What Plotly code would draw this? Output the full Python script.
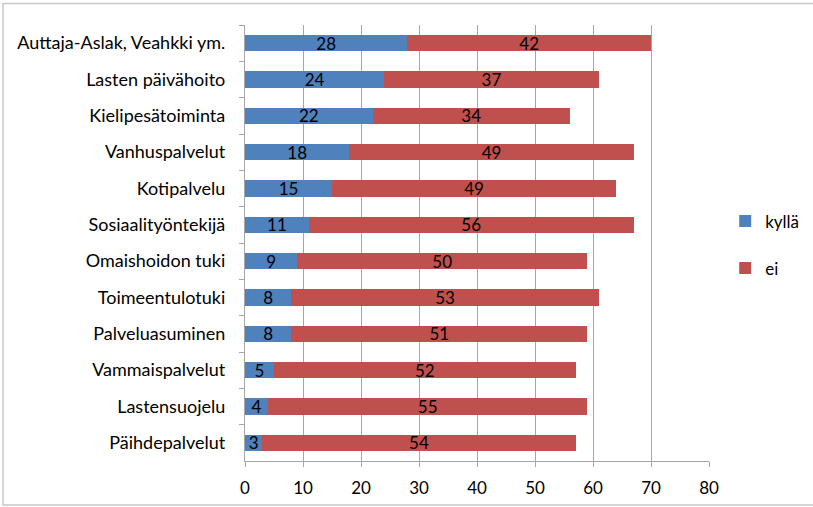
import plotly.graph_objects as go

categories = [
    "Auttaja-Aslak, Veahkki ym.",
    "Lasten päivähoito",
    "Kielipesätoiminta",
    "Vanhuspalvelut",
    "Kotipalvelu",
    "Sosiaalityöntekijä",
    "Omaishoidon tuki",
    "Toimeentulotuki",
    "Palveluasuminen",
    "Vammaispalvelut",
    "Lastensuojelu",
    "Päihdepalvelut",
]
kylla = [28, 24, 22, 18, 15, 11, 9, 8, 8, 5, 4, 3]
ei = [42, 37, 34, 49, 49, 56, 50, 53, 51, 52, 55, 54]
x_ticks = [0, 10, 20, 30, 40, 50, 60, 70, 80]

FONT = "Lato"
FS = 17
BLUE = "#4F81BD"
RED = "#C0504D"
GRID = "#A6A6A6"

fig = go.Figure()
for name, vals, col, grp in [("kyllä", kylla, BLUE, "a"), ("ei", ei, RED, "b")]:
    fig.add_trace(go.Bar(
        y=categories, x=vals, name=name, orientation="h",
        marker=dict(color=col, line=dict(width=0)),
        text=[str(v) for v in vals], textposition="inside", textangle=0,
        insidetextanchor="middle", constraintext="none",
        textfont=dict(family=FONT, size=FS, color="black"),
        legendgroup=grp,
    ))

fig.update_layout(
    width=813, height=507,
    margin=dict(l=245, r=104, t=25, b=46, autoexpand=False),
    barmode="stack", bargap=0.55,
    plot_bgcolor="white", paper_bgcolor="white",
    font=dict(family=FONT, size=FS, color="black"),
    showlegend=True,
    legend=dict(xref="container", yref="container", x=0.892, y=0.517,
                xanchor="left", yanchor="middle",
                traceorder="grouped", tracegroupgap=22,
                font=dict(family=FONT, size=FS, color="black"),
                itemwidth=30, bgcolor="rgba(0,0,0,0)"),
    xaxis=dict(range=[0, 80], tickvals=x_ticks, showgrid=True,
               gridcolor=GRID, gridwidth=1.3, showline=True,
               linecolor=GRID, linewidth=1.3, ticks="outside",
               ticklen=5, tickcolor=GRID, zeroline=False,
               ticklabelstandoff=6, tickfont=dict(size=FS)),
    yaxis=dict(autorange="reversed", showline=True, linecolor=GRID,
               linewidth=1.3, ticks="outside", ticklen=5, tickcolor=GRID,
               tickson="boundaries", ticklabelstandoff=15,
               tickfont=dict(size=18)),
)

# outer chart frame
fig.add_shape(type="rect", xref="paper", yref="paper",
              x0=-0.5216, x1=1.30, y0=-0.1009, y1=1.0493,
              line=dict(color="#C8C8C8", width=1.5), layer="below")

fig.write_html("out.html")
